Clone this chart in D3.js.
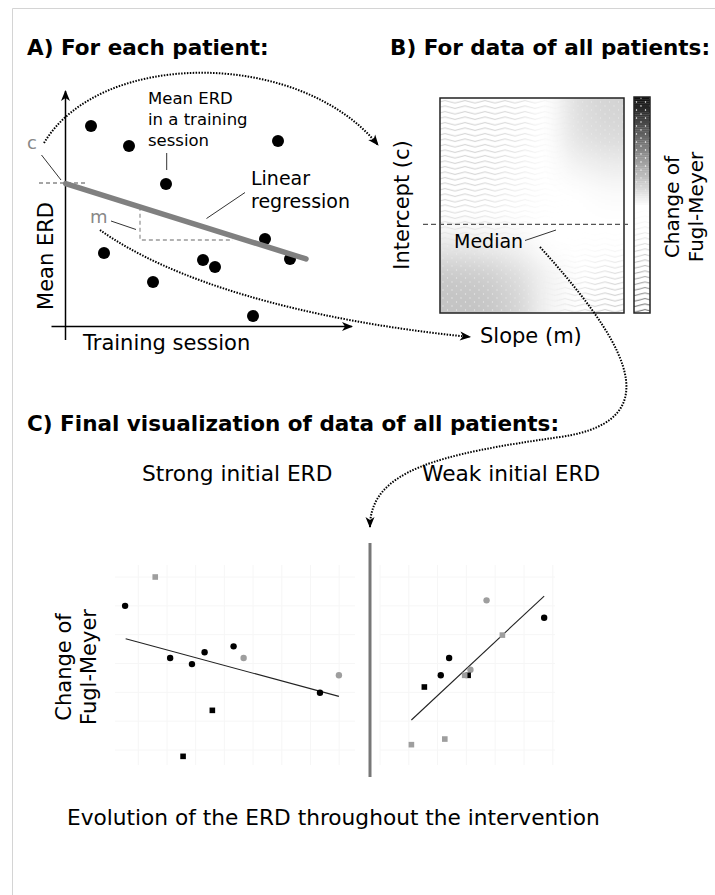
<!DOCTYPE html>
<html>
<head>
<meta charset="utf-8" />
<title>ERD regression overview</title>
<script src="https://d3js.org/d3.v7.min.js"></script>
<style>
html, body { margin: 0; padding: 0; background: #fff; }
svg { display: block; font-family: "DejaVu Sans", sans-serif; }
.dotted { fill: none; stroke: #000; stroke-width: 2; stroke-dasharray: 1.5, 1.4; }
.leader { stroke: #333; stroke-width: 1; }
</style>
</head>
<body>
<script>
// ---- panel A: one patient (session position, mean ERD) in drawing units
let sessionA = [27, 65, 102, 214, 40, 89, 139, 151, 201, 226, 189];
let erdA = [201, 181, 143, 186, 74, 45, 67, 60, 88, 68, 11];
let fitIntercept = 144;
let fitSlope = -0.314;
let fitRange = [1.7, 242];

// ---- panel B: change of Fugl-Meyer over slope (cols) x intercept (rows)
let fmGrid = [
    [-0.45, -0.45, -0.40, -0.10, 0.14, 0.18],
    [-0.45, -0.45, -0.35, -0.05, 0.12, 0.15],
    [-0.45, -0.45, -0.30, -0.05, 0.05, 0.08],
    [-0.45, -0.40, -0.25, -0.05, 0.00, 0.02],
    [-0.35, -0.30, -0.15, 0.00, 0.00, 0.00],
    [0.10, 0.08, 0.05, 0.00, 0.00, -0.05],
    [0.22, 0.20, 0.14, 0.05, -0.20, -0.40],
    [0.25, 0.24, 0.18, 0.05, -0.35, -0.50]
];
let medianRow = 4.7;

// ---- panel C: final scatter, two facets
let strongX = [-0.46, 0.59, 1.11, 1.87, 2.31, 3.32, 3.67, 6.33, 6.99, 2.58, 1.56];
let strongY = [4.0, 6.0, 0.38, -0.04, 0.78, 1.19, 0.38, -2.03, -0.82, -3.25, -6.44];
let strongShape = ['c', 's', 'c', 'c', 'c', 'c', 'c', 'c', 'c', 's', 's'];
let strongTone = ['k', 'g', 'k', 'k', 'k', 'k', 'g', 'k', 'g', 'k', 'k'];
let strongFit = [[-0.44, 1.72], [6.99, -2.28]];

let weakX = [3.70, 5.70, 4.25, 2.40, 2.11, 3.14, 3.06, 2.94, 1.54, 1.09, 2.25];
let weakY = [4.38, 3.17, 1.97, 0.38, -0.82, -0.43, -0.82, -0.82, -1.63, -5.63, -5.24];
let weakShape = ['c', 'c', 's', 'c', 'c', 'c', 's', 's', 's', 's', 's'];
let weakTone = ['g', 'k', 'g', 'k', 'k', 'g', 'k', 'g', 'k', 'g', 'g'];
let weakFit = [[1.09, -3.92], [5.70, 4.68]];

let tones = {k: '#000', g: '#9e9e9e'};

let svg = d3.select('body').append('svg').attr('width', 715).attr('height', 895);
let defs = svg.append('defs');

defs.append('marker').attr('id', 'arrow').attr('viewBox', '-11 -6 13 12')
    .attr('markerUnits', 'userSpaceOnUse').attr('markerWidth', 13).attr('markerHeight', 12)
    .attr('refX', 0).attr('refY', 0).attr('orient', 'auto')
    .append('path').attr('d', 'M-10,-4.5 L1,0 L-10,4.5 L-7,0 Z').attr('fill', '#000');

defs.append('filter').attr('id', 'blur').attr('x', '-50%').attr('y', '-50%').attr('width', '200%').attr('height', '200%')
    .append('feGaussianBlur').attr('stdDeviation', 12);

let wave = defs.append('pattern').attr('id', 'waves').attr('patternUnits', 'userSpaceOnUse')
    .attr('width', 20).attr('height', 5.5);
wave.append('path').attr('d', 'M0,2.75 Q5,0.25 10,2.75 T20,2.75').attr('fill', 'none')
    .attr('stroke', '#333').attr('stroke-width', 0.8);

let dots = defs.append('pattern').attr('id', 'dots').attr('patternUnits', 'userSpaceOnUse')
    .attr('width', 9).attr('height', 8);
dots.append('circle').attr('cx', 2).attr('cy', 2).attr('r', 0.7).attr('fill', '#fff');
dots.append('circle').attr('cx', 6.5).attr('cy', 6).attr('r', 0.7).attr('fill', '#fff');

// frame
svg.append('path').attr('d', 'M12.5,895 V8.5 H715').attr('fill', 'none').attr('stroke', '#d4d4d4');

// titles
svg.append('text').attr('x', 27).attr('y', 55).attr('font-size', 21.5).attr('font-weight', 'bold').text('A) For each patient:');
svg.append('text').attr('x', 390).attr('y', 55).attr('font-size', 21.5).attr('font-weight', 'bold').text('B) For data of all patients:');
svg.append('text').attr('x', 27).attr('y', 431).attr('font-size', 21.5).attr('font-weight', 'bold').text('C) Final visualization of data of all patients:');

// ================= panel A =================
let xA = d3.scaleLinear().domain([0, 288]).range([64, 352]);
let yA = d3.scaleLinear().domain([0, 237]).range([327, 90]);
let fit = x => fitIntercept + fitSlope * x;
let gA = svg.append('g');

// dashed helpers for c and m
gA.append('line').attr('x1', 39).attr('x2', 86).attr('y1', yA(fitIntercept)).attr('y2', yA(fitIntercept))
    .attr('stroke', '#888').attr('stroke-width', 1.3).attr('stroke-dasharray', '4,3');
let mx0 = 76, mx1 = 169, my1 = 87;
gA.append('path').attr('d', 'M' + xA(mx0) + ',' + yA(fit(mx0)) + ' V' + yA(my1) + ' H' + xA(mx1))
    .attr('fill', 'none').attr('stroke', '#999').attr('stroke-width', 1.3).attr('stroke-dasharray', '4,3');

// axes
gA.append('line').attr('x1', 65.5).attr('x2', 65.5).attr('y1', 340).attr('y2', 91)
    .attr('stroke', '#000').attr('stroke-width', 1.5).attr('marker-end', 'url(#arrow)');
gA.append('line').attr('x1', 51.5).attr('x2', 352).attr('y1', 326.5).attr('y2', 326.5)
    .attr('stroke', '#000').attr('stroke-width', 1.5).attr('marker-end', 'url(#arrow)');

gA.selectAll('circle.sess').data(sessionA).enter().append('circle').attr('class', 'sess')
    .attr('cx', d => xA(d)).attr('cy', (d, i) => yA(erdA[i])).attr('r', 6).attr('fill', '#000');

gA.append('line').attr('x1', xA(fitRange[0])).attr('y1', yA(fit(fitRange[0])))
    .attr('x2', xA(fitRange[1])).attr('y2', yA(fit(fitRange[1])))
    .attr('stroke', '#808080').attr('stroke-width', 5.5).attr('stroke-linecap', 'round');

// labels & leaders
gA.append('text').attr('x', 27).attr('y', 149).attr('font-size', 18).attr('fill', '#888').text('c');
gA.append('line').attr('class', 'leader').attr('x1', 41.5).attr('y1', 155).attr('x2', 61).attr('y2', 180);
gA.append('text').attr('x', 90).attr('y', 223).attr('font-size', 18).attr('fill', '#888').text('m');
gA.append('line').attr('class', 'leader').attr('x1', 111).attr('y1', 221).attr('x2', 136).attr('y2', 229.5);
['Mean ERD', 'in a training', 'session'].forEach((t, i) => {
    gA.append('text').attr('x', 148).attr('y', 104 + i * 21).attr('font-size', 16.5).text(t);
});
gA.append('line').attr('class', 'leader').attr('x1', 166.7).attr('y1', 153).attr('x2', 166.7).attr('y2', 170);
gA.append('text').attr('x', 251).attr('y', 185).attr('font-size', 19).text('Linear');
gA.append('text').attr('x', 251).attr('y', 208).attr('font-size', 19).text('regression');
gA.append('line').attr('class', 'leader').attr('x1', 245).attr('y1', 192.5).attr('x2', 206.5).attr('y2', 218.5);
gA.append('text').attr('transform', 'translate(53,256) rotate(-90)').attr('text-anchor', 'middle')
    .attr('font-size', 21).text('Mean ERD');
gA.append('text').attr('x', 83).attr('y', 350).attr('font-size', 21).text('Training session');

// ================= panel B =================
let hm = {x0: 440, x1: 624, y0: 98, y1: 313};
let nCols = fmGrid[0].length, nRows = fmGrid.length;
let xB = d3.scaleLinear().domain([0, nCols]).range([hm.x0, hm.x1]);
let yB = d3.scaleLinear().domain([0, nRows]).range([hm.y0, hm.y1]);
let grey = d3.scaleLinear().domain([0, 1]).range(['#ffffff', '#111111']).clamp(true);
let waveAlpha = v => v < 0 ? Math.pow(-v, 1.5) : 0;
let dotAlpha = v => v > 0 ? Math.min(1, v * 2.5) : 0;

let cells = [];
fmGrid.forEach((row, r) => row.forEach((v, c) => cells.push({r: r, c: c, v: v})));
let cellX0 = d => d.c === 0 ? xB(0) - 40 : xB(d.c);
let cellX1 = d => d.c === nCols - 1 ? xB(nCols) + 40 : xB(d.c + 1);
let cellY0 = d => d.r === 0 ? yB(0) - 40 : yB(d.r);
let cellY1 = d => d.r === nRows - 1 ? yB(nRows) + 40 : yB(d.r + 1);

defs.append('clipPath').attr('id', 'hmclip').append('rect')
    .attr('x', hm.x0).attr('y', hm.y0).attr('width', hm.x1 - hm.x0).attr('height', hm.y1 - hm.y0);

function cellLayer(parent, fillFn, opacityFn) {
    parent.selectAll('rect').data(cells).enter().append('rect')
        .attr('x', cellX0).attr('y', cellY0)
        .attr('width', d => cellX1(d) - cellX0(d) + 0.5).attr('height', d => cellY1(d) - cellY0(d) + 0.5)
        .attr('fill', fillFn).attr('fill-opacity', opacityFn);
}
let waveMask = defs.append('mask').attr('id', 'waveMask').attr('maskUnits', 'userSpaceOnUse')
    .attr('x', 0).attr('y', 0).attr('width', 715).attr('height', 895);
cellLayer(waveMask.append('g').attr('filter', 'url(#blur)'), '#fff', d => waveAlpha(d.v));
let dotMask = defs.append('mask').attr('id', 'dotMask').attr('maskUnits', 'userSpaceOnUse')
    .attr('x', 0).attr('y', 0).attr('width', 715).attr('height', 895);
cellLayer(dotMask.append('g').attr('filter', 'url(#blur)'), '#fff', d => dotAlpha(d.v));

let gB = svg.append('g');
let hmG = gB.append('g').attr('clip-path', 'url(#hmclip)');
hmG.append('rect').attr('x', hm.x0).attr('y', hm.y0).attr('width', hm.x1 - hm.x0).attr('height', hm.y1 - hm.y0).attr('fill', '#fff');
cellLayer(hmG.append('g').attr('filter', 'url(#blur)'), d => grey(Math.max(0, d.v)), 1);
hmG.append('rect').attr('x', hm.x0).attr('y', hm.y0).attr('width', hm.x1 - hm.x0).attr('height', hm.y1 - hm.y0)
    .attr('fill', 'url(#waves)').attr('mask', 'url(#waveMask)');
hmG.append('rect').attr('x', hm.x0).attr('y', hm.y0).attr('width', hm.x1 - hm.x0).attr('height', hm.y1 - hm.y0)
    .attr('fill', 'url(#dots)').attr('mask', 'url(#dotMask)');
gB.append('rect').attr('x', hm.x0).attr('y', hm.y0).attr('width', hm.x1 - hm.x0).attr('height', hm.y1 - hm.y0)
    .attr('fill', 'none').attr('stroke', '#222').attr('stroke-width', 1.5);

// colour bar (legend of the same encoding, +1 at top to -1 at bottom)
let cb = {x0: 634, x1: 650, y0: 97, y1: 313};
let yCb = d3.scaleLinear().domain([1, -1]).range([cb.y0, cb.y1]);
let cbSteps = d3.range(1, -1, -0.02);
let cbG = gB.append('g');
cbG.selectAll('rect.g').data(cbSteps).enter().append('rect').attr('class', 'g')
    .attr('x', cb.x0).attr('width', cb.x1 - cb.x0).attr('y', d => yCb(d)).attr('height', yCb(0) - yCb(0.02) + 0.3)
    .attr('fill', d => grey(Math.max(0, d)));
cbG.selectAll('rect.w').data(cbSteps).enter().append('rect').attr('class', 'w')
    .attr('x', cb.x0).attr('width', cb.x1 - cb.x0).attr('y', d => yCb(d)).attr('height', yCb(0) - yCb(0.02) + 0.3)
    .attr('fill', 'url(#waves)').attr('fill-opacity', d => waveAlpha(d));
cbG.selectAll('rect.d').data(cbSteps).enter().append('rect').attr('class', 'd')
    .attr('x', cb.x0).attr('width', cb.x1 - cb.x0).attr('y', d => yCb(d)).attr('height', yCb(0) - yCb(0.02) + 0.3)
    .attr('fill', 'url(#dots)').attr('fill-opacity', d => dotAlpha(d));
gB.append('rect').attr('x', cb.x0).attr('y', cb.y0).attr('width', cb.x1 - cb.x0).attr('height', cb.y1 - cb.y0)
    .attr('fill', 'none').attr('stroke', '#222').attr('stroke-width', 1.5);

// median
gB.append('line').attr('x1', 423).attr('x2', 628).attr('y1', yB(medianRow)).attr('y2', yB(medianRow))
    .attr('stroke', '#555').attr('stroke-width', 1.3).attr('stroke-dasharray', '5,3');
gB.append('text').attr('x', 454).attr('y', 248).attr('font-size', 19).text('Median');
gB.append('line').attr('class', 'leader').attr('x1', 525).attr('y1', 240.5).attr('x2', 556).attr('y2', 230);

gB.append('text').attr('transform', 'translate(408.5,205) rotate(-90)').attr('text-anchor', 'middle')
    .attr('font-size', 21).text('Intercept (c)');
gB.append('text').attr('transform', 'translate(679,207) rotate(-90)').attr('text-anchor', 'middle')
    .attr('font-size', 20).text('Change of');
gB.append('text').attr('transform', 'translate(703,207) rotate(-90)').attr('text-anchor', 'middle')
    .attr('font-size', 20).text('Fugl-Meyer');
gB.append('text').attr('x', 480).attr('y', 343).attr('font-size', 21).text('Slope (m)');

// ================= panel C =================
let yC = d3.scaleLinear().domain([-6, 6]).range([750, 577]);
let xStrong = d3.scaleLinear().domain([0, 7]).range([138.3, 339.2]);
let xWeak = d3.scaleLinear().domain([0, 6]).range([380, 552.8]);
let gC = svg.append('g');

function facet(xs, xExtent, xsVals, ysVals, shapes, tonesArr, fitPts) {
    let g = gC.append('g');
    let vt = d3.range(-2, 10).filter(u => xs(u) >= xExtent[0] - 0.5 && xs(u) <= xExtent[1]);
    g.selectAll('line.v').data(vt).enter().append('line').attr('class', 'v')
        .attr('x1', d => xs(d)).attr('x2', d => xs(d)).attr('y1', 565).attr('y2', 765)
        .attr('stroke', '#f6f6f6').attr('stroke-width', 1);
    g.selectAll('line.h').data(yC.ticks(6)).enter().append('line').attr('class', 'h')
        .attr('x1', xExtent[0]).attr('x2', xExtent[1]).attr('y1', d => yC(d)).attr('y2', d => yC(d))
        .attr('stroke', '#f6f6f6').attr('stroke-width', 1);
    g.append('line').attr('x1', xs(fitPts[0][0])).attr('y1', yC(fitPts[0][1]))
        .attr('x2', xs(fitPts[1][0])).attr('y2', yC(fitPts[1][1]))
        .attr('stroke', '#222').attr('stroke-width', 1.1);
    let idx = d3.range(xsVals.length);
    g.selectAll('circle').data(idx.filter(i => shapes[i] === 'c')).enter().append('circle')
        .attr('cx', i => xs(xsVals[i])).attr('cy', i => yC(ysVals[i])).attr('r', 3.2)
        .attr('fill', i => tones[tonesArr[i]]);
    g.selectAll('rect').data(idx.filter(i => shapes[i] === 's')).enter().append('rect')
        .attr('x', i => xs(xsVals[i]) - 2.8).attr('y', i => yC(ysVals[i]) - 2.8)
        .attr('width', 5.6).attr('height', 5.6).attr('fill', i => tones[tonesArr[i]]);
}
facet(xStrong, [115, 355], strongX, strongY, strongShape, strongTone, strongFit);
facet(xWeak, [380, 555], weakX, weakY, weakShape, weakTone, weakFit);

gC.append('line').attr('x1', 370).attr('x2', 370).attr('y1', 543).attr('y2', 777)
    .attr('stroke', '#777').attr('stroke-width', 3);

gC.append('text').attr('x', 142).attr('y', 481).attr('font-size', 21.7).text('Strong initial ERD');
gC.append('text').attr('x', 422).attr('y', 481).attr('font-size', 21.7).text('Weak initial ERD');
gC.append('text').attr('transform', 'translate(71,667) rotate(-90)').attr('text-anchor', 'middle')
    .attr('font-size', 21).text('Change of');
gC.append('text').attr('transform', 'translate(95.5,667) rotate(-90)').attr('text-anchor', 'middle')
    .attr('font-size', 21).text('Fugl-Meyer');
gC.append('text').attr('x', 67).attr('y', 825).attr('font-size', 21.7).text('Evolution of the ERD throughout the intervention');

// ================= connecting dotted arrows =================
svg.append('path').attr('class', 'dotted').attr('d', 'M44,143 C100,49 300,49 378,145').attr('marker-end', 'url(#arrow)');
svg.append('path').attr('class', 'dotted').attr('d', 'M100,230 C170,280 300,320 470,337').attr('marker-end', 'url(#arrow)');
svg.append('path').attr('class', 'dotted').attr('d', 'M540,247 C615,330 680,420 560,437 C440,454 370,470 370,527').attr('marker-end', 'url(#arrow)');
</script>
</body>
</html>
